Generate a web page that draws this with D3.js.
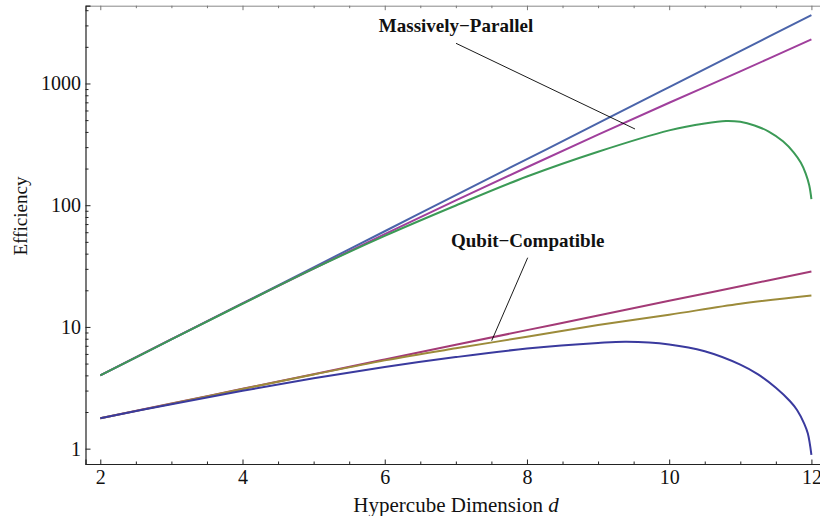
<!DOCTYPE html>
<html>
<head>
<meta charset="utf-8">
<script src="https://cdn.jsdelivr.net/npm/d3@7"></script>
<style>
  body { margin: 0; background: #fff; }
  svg { display: block; }
  .tick text { font-family: "Liberation Serif", "Times New Roman", serif; font-size: 20px; fill: #111; }
  .annot { font-family: "Liberation Serif", "Times New Roman", serif; font-weight: bold; font-size: 19px; fill: #111; }
  .axis-title { font-family: "Liberation Serif", "Times New Roman", serif; font-size: 21px; fill: #111; }
</style>
</head>
<body>
<div id="chart"></div>
<script>
// data
const dims = [2, 3, 4, 5, 6, 7, 8, 9, 10, 11, 12];

// massively-parallel family
const mpBlue    = [4, 7.9, 15.6, 30.9, 61.1, 121, 239, 472, 933, 1845, 3650];
const mpMagenta = [4, 7.93, 15.6, 30.2, 57.8, 109.5, 205, 380, 695, 1258, 2300];
const mpGreenD  = [2, 3, 4, 5, 6, 7, 8, 9, 10, 10.5, 10.8, 11, 11.2, 11.4, 11.6, 11.75, 11.85, 11.92, 11.97, 12];
const mpGreen   = [4, 7.89, 15.5, 30.1, 56, 99.5, 172, 275, 412, 470, 492, 484, 452, 403, 335, 272, 224, 182, 145, 112];

// qubit-compatible family
const qcMagenta = [1.78, 2.35, 3.10, 4.09, 5.40, 7.13, 9.41, 12.4, 16.4, 21.6, 28.5];
const qcOlive   = [1.78, 2.34, 3.09, 4.07, 5.31, 6.68, 8.3, 10.35, 12.6, 15.5, 18.1];
const qcBlueD   = [2, 3, 4, 5, 6, 7, 8, 9, 9.4, 10, 10.5, 11, 11.25, 11.5, 11.7, 11.8, 11.9, 11.95, 12];
const qcBlue    = [1.78, 2.32, 2.99, 3.78, 4.68, 5.65, 6.64, 7.38, 7.55, 7.18, 6.31, 4.90, 4.07, 3.16, 2.45, 2.07, 1.60, 1.33, 0.89];

const xMajor = [2, 4, 6, 8, 10, 12];
const yMajor = [1, 10, 100, 1000];

const width = 820, height = 516;
const x0 = 85.5, x1 = 826.2, yTop = 5.7, yBot = 464;

const svg = d3.select("#chart").append("svg")
  .attr("width", width)
  .attr("height", height);

const x = d3.scaleLinear().domain([1.792, 12.208]).range([x0, x1]);
const y = d3.scaleLog().domain([0.748, 4355]).range([yBot, yTop]);

const xMinor = d3.range(2, 12.01, 0.5).filter(v => v % 2 !== 0);
const yMinor = [];
[1, 10, 100, 1000].forEach(p => {
  for (let k = 2; k <= 9; k++) if (p * k < 4355) yMinor.push(p * k);
});

// frame top (ticks only)
svg.append("g")
  .attr("transform", `translate(0,${yTop})`)
  .call(d3.axisTop(x).tickValues(xMajor).tickSize(-4.5).tickFormat(""))
  .call(g => g.select(".domain").attr("stroke", "#888"))
  .call(g => g.selectAll(".tick line").attr("stroke", "#777"));
svg.append("g")
  .attr("transform", `translate(0,${yTop})`)
  .call(d3.axisTop(x).tickValues(xMinor).tickSize(-2.5).tickFormat(""))
  .call(g => g.select(".domain").remove())
  .call(g => g.selectAll(".tick line").attr("stroke", "#777"));

// bottom axis
svg.append("g")
  .attr("transform", `translate(0,${yBot})`)
  .call(d3.axisBottom(x).tickValues(xMajor).tickSize(-4.5).tickPadding(6).tickFormat(d3.format("d")))
  .call(g => g.select(".domain").attr("stroke", "#222").attr("stroke-width", 1.2))
  .call(g => g.selectAll(".tick line").attr("stroke", "#222"));
svg.append("g")
  .attr("transform", `translate(0,${yBot})`)
  .call(d3.axisBottom(x).tickValues(xMinor).tickSize(-2.5).tickFormat(""))
  .call(g => g.select(".domain").remove())
  .call(g => g.selectAll(".tick line").attr("stroke", "#222"));

// left axis
svg.append("g")
  .attr("transform", `translate(${x0},0)`)
  .call(d3.axisLeft(y).tickValues(yMajor).tickSize(-5).tickPadding(4.5).tickFormat(d3.format("d")))
  .call(g => g.select(".domain").attr("stroke", "#222").attr("stroke-width", 1.2))
  .call(g => g.selectAll(".tick line").attr("stroke", "#222"));
svg.append("g")
  .attr("transform", `translate(${x0},0)`)
  .call(d3.axisLeft(y).tickValues(yMinor).tickSize(-3).tickFormat(""))
  .call(g => g.select(".domain").remove())
  .call(g => g.selectAll(".tick line").attr("stroke", "#222"));

// curves
const line = d3.line()
  .x(d => x(d[0]))
  .y(d => y(d[1]))
  .curve(d3.curveCatmullRom.alpha(0.5));

const series = [
  { d: dims,    v: mpBlue,    color: "#4a64aa" },
  { d: dims,    v: mpMagenta, color: "#a03f9c" },
  { d: mpGreenD, v: mpGreen,  color: "#3b9a56" },
  { d: dims,    v: qcMagenta, color: "#a33a76" },
  { d: dims,    v: qcOlive,   color: "#9c8b3a" },
  { d: qcBlueD, v: qcBlue,    color: "#3a3a9e" }
];

svg.append("g")
  .selectAll("path")
  .data(series)
  .join("path")
  .attr("d", s => line(s.d.map((d, i) => [d, s.v[i]])))
  .attr("fill", "none")
  .attr("stroke", s => s.color)
  .attr("stroke-width", 2);

// annotations
svg.append("text").attr("class", "annot")
  .attr("x", 456).attr("y", 32.3)
  .attr("text-anchor", "middle")
  .text("Massively\u2212Parallel");
svg.append("line")
  .attr("x1", 456).attr("y1", 43.3)
  .attr("x2", 635).attr("y2", 129)
  .attr("stroke", "#000").attr("stroke-width", 0.9);

svg.append("text").attr("class", "annot")
  .attr("x", 527.7).attr("y", 246.7)
  .attr("text-anchor", "middle")
  .text("Qubit\u2212Compatible");
svg.append("line")
  .attr("x1", 527.7).attr("y1", 257.7)
  .attr("x2", 491.7).attr("y2", 340.7)
  .attr("stroke", "#000").attr("stroke-width", 0.9);

// axis titles
const xt = svg.append("text").attr("class", "axis-title")
  .attr("x", 456).attr("y", 511.5)
  .attr("text-anchor", "middle");
xt.append("tspan").text("Hypercube Dimension ");
xt.append("tspan").attr("font-style", "italic").text("d");

svg.append("text").attr("class", "axis-title")
  .attr("transform", "rotate(-90)")
  .attr("x", -216).attr("y", 27)
  .attr("text-anchor", "middle")
  .style("font-size", "19px")
  .text("Efficiency");
</script>
</body>
</html>
